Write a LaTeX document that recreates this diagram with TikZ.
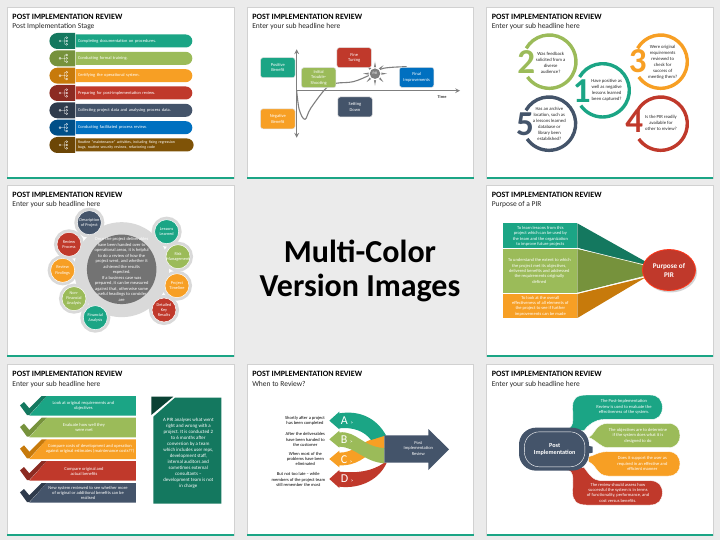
\documentclass[tikz,border=0pt]{standalone}
\usepackage{fontspec}
\setmainfont{Carlito}
\usetikzlibrary{calc,shapes.misc,shapes.geometric,shadows}
\definecolor{myteal}{HTML}{1BA585}
\definecolor{mydteal}{HTML}{14785F}
\definecolor{mygreen}{HTML}{9BBB59}
\definecolor{mydgreen}{HTML}{76923C}
\definecolor{myorange}{HTML}{F79F24}
\definecolor{mydorange}{HTML}{C77A0B}
\definecolor{myred}{HTML}{C0392B}
\definecolor{mydred}{HTML}{8C2B22}
\definecolor{mynavy}{HTML}{44546A}
\definecolor{mydnavy}{HTML}{2F3B4C}
\definecolor{myblue}{HTML}{0070C0}
\definecolor{mydblue}{HTML}{004F88}
\definecolor{mybrown}{HTML}{7F5307}
\definecolor{mydbrown}{HTML}{6C4606}
\definecolor{myaxis}{HTML}{7F7F7F}
\tikzset{
    crop/.style 2 args={shift={(#1,#2)}, x=0.33333pt, y=-0.33333pt},
    slidepaper/.style={anchor=north west, fill=white, draw=black!18, line width=0.8pt,
        minimum width=226.5pt, minimum height=171pt, inner sep=0},
    slidestrip/.style={anchor=south west, fill=myteal, minimum width=226.5pt,
        minimum height=2pt, inner sep=0},
    headline/.style={anchor=west, inner sep=0, font=\bfseries\fontsize{8.1}{9}\selectfont},
    subline/.style={anchor=west, inner sep=0, font=\fontsize{7.5}{8}\selectfont, text=black!85},
    smalltext/.style={inner sep=0, align=center, font=\fontsize{4.5}{5.4}\selectfont},
    whitetext/.style={smalltext, text=white},
    pillbar/.style={rounded rectangle, rounded rectangle west arc=none, anchor=west,
        minimum height=13pt, inner ysep=0, inner xsep=2.5pt, text width=111.5pt, align=left,
        text=white, font=\fontsize{4.4}{5}\selectfont},
    pillcap/.style={rounded rectangle, rounded rectangle east arc=none, anchor=east,
        minimum width=25.7pt, minimum height=16pt, inner sep=0},
    treeicon/.pic={
        \draw[white, line width=0.3pt] (-12,0) circle (3) (-9,0) -- (2,0)
            (2,-10) -- (2,10) (2,-10) -- (5,-10) (2,10) -- (5,10);
        \draw[white, line width=0.3pt] (8,-10) circle (3) (8,0) circle (3) (8,10) circle (3);
    },
    flowbox/.style={whitetext, draw=black!12, line width=0.5pt, rounded corners=2.5pt,
        minimum width=34.5pt, minimum height=20pt},
    axisline/.style={draw=myaxis, line width=1.1pt},
    ringline/.style={line width=3.4pt},
    ringdigit/.style={inner sep=0, font=\bfseries\fontsize{35}{35}\selectfont},
    ringtext/.style={inner sep=0, align=center, font=\fontsize{4.7}{6}\selectfont, text=black!85},
    satcircle/.style={circle, minimum size=24pt, inner sep=0, draw=white, line width=0.5pt,
        preaction={draw=black!15, line width=6pt}},
    satlabel/.style={whitetext, font=\fontsize{4.3}{5.2}\selectfont},
    bubble/.style={draw=white, line width=0.4pt},
}
\newcommand{\slideframe}[4]{
    \node[slidepaper] (#1) at (#2,#3) {};
    \node[slidestrip] (#1strip) at (#1.south west) {};
    \node[headline] (#1title) at ($(#1.north west)+(5.3,10.3)$) {POST IMPLEMENTATION REVIEW};
    \node[subline] (#1sub) at ($(#1.north west)+(5.3,20)$) {#4};
}
\newcommand{\checkbar}[3]{
    \begin{scope}[yshift=-#1*0.33333pt]
        \fill[#2] (140,0) -- (408,0) -- (408,59) -- (88,59) -- cycle;
        \fill[#3] (60,28) -- (72,18) -- (88,37) -- (125,0) -- (140,0) -- (88,57) -- (81,57) -- cycle;
    \end{scope}
}
\begin{document}
\begin{tikzpicture}[x=1pt, y=-1pt]
    \useasboundingbox (0,0) rectangle (720,540);
    \fill[black!8] (0,0) rectangle (720,540);
    \slideframe{stage}{7}{7}{Post Implementation Stage}
    \slideframe{curve}{246.8}{7}{Enter your sub headline here}
    \slideframe{rings}{486.3}{7}{Enter your sub headline here}
    \slideframe{orbit}{7}{185}{Enter your sub headline here}
    \slideframe{purpose}{486.3}{185}{Purpose of a PIR}
    \slideframe{checks}{7}{364}{Enter your sub headline here}
    \slideframe{when}{246.8}{364}{When to Review?}
    \slideframe{bubbles}{486.3}{364}{Enter your sub headline here}
    % Middle caption
    \node[align=center, font=\bfseries\fontsize{32}{34}\selectfont] (caption) at (360,271)
        {Multi-Color\\Version Images};
    \begin{scope}[crop={0}{0}]
        % Stage bars
        \node[pillbar, fill=myteal] (bara) at (226,123) {Completing documentation on procedures.};
        \node[pillbar, fill=mygreen] (barb) at (226,175) {Conducting formal training.};
        \node[pillbar, fill=myorange] (barc) at (226,227) {Certifying the operational system.};
        \node[pillbar, fill=myred] (bard) at (226,279) {Preparing for post-implementation review.};
        \node[pillbar, fill=mynavy] (bare) at (226,331) {Collecting project data and analysing process data.};
        \node[pillbar, fill=myblue] (barf) at (226,383) {Conducting facilitated process review.};
        \node[pillbar, fill=mybrown, font=\fontsize{3.9}{5}\selectfont] (barg) at (226,435) {Routine ``maintenance'' activities, including fixing regression\\bugs, routine security reviews, refactoring code};
        % Stage caps
        \node[pillcap, fill=mydteal] (capa) at (226,123) {};
        \node[pillcap, fill=mydgreen] (capb) at (226,175) {};
        \node[pillcap, fill=mydorange] (capc) at (226,227) {};
        \node[pillcap, fill=mydred] (capd) at (226,279) {};
        \node[pillcap, fill=mydnavy] (cape) at (226,331) {};
        \node[pillcap, fill=mydblue] (capf) at (226,383) {};
        \node[pillcap, fill=mydbrown] (capg) at (226,435) {};
        \pic at (192,123) {treeicon};
        \pic at (192,175) {treeicon};
        \pic at (192,227) {treeicon};
        \pic at (192,279) {treeicon};
        \pic at (192,331) {treeicon};
        \pic at (192,383) {treeicon};
        \pic at (192,435) {treeicon};
    \end{scope}
    \begin{scope}[crop={240}{0}]
        % Axes
        \coordinate (origin) at (170,272);
        \coordinate (timeend) at (660,272);
        \coordinate (gaintop) at (170,148);
        \coordinate (gainlow) at (170,413);
        \draw[axisline, -stealth] (origin) -- (timeend);
        \draw[axisline, stealth-stealth] (gainlow) -- (gaintop);
        \node[smalltext, font=\bfseries\fontsize{4.3}{5}\selectfont, text=black!75] (timelabel) at (606,290) {Time};
        % Benefit curve
        \draw[axisline] plot[smooth, tension=0.6] coordinates
            {(170,272) (178,330) (195,358) (212,325) (258,265) (288,250) (340,245) (392,224) (430,205) (500,200)};
        % Review burst
        \node[star, star points=8, star point ratio=3, minimum size=24pt, inner sep=0, fill=myaxis] (burst) at (405,221) {};
        \node[circle, fill=white, minimum size=13pt, inner sep=0] (burstgap) at (405,221) {};
        \node[circle, fill=myaxis, minimum size=10.5pt, inner sep=0, text=white, font=\fontsize{3.6}{4}\selectfont] (pir) at (405,221) {PIR};
        % Phase boxes
        \node[flowbox, fill=myteal] (positive) at (113.5,203) {Positive\\Benefit};
        \node[flowbox, fill=myorange] (negative) at (113.5,356.5) {Negative\\Benefit};
        \node[flowbox, fill=mygreen] (trouble) at (236,233) {Initial\\Trouble-\\Shooting};
        \node[flowbox, fill=myred] (tuning) at (342.5,173) {Fine\\Tuning};
        \node[flowbox, fill=mynavy] (settling) at (345,321) {Setting\\Down};
        \node[flowbox, fill=myblue] (final) at (530,232) {Final\\Improvements};
    \end{scope}
    \begin{scope}[crop={480}{0}]
        % Rings
        \draw[ringline, mygreen] (208,185) ++(-150:80) arc[start angle=-150, end angle=145, radius=80];
        \draw[ringline, mynavy] (207,371) ++(-150:80) arc[start angle=-150, end angle=145, radius=80];
        \draw[ringline, myorange] (542,185) ++(-150:80) arc[start angle=-150, end angle=145, radius=80];
        \draw[ringline, myred] (542,371) ++(-150:80) arc[start angle=-150, end angle=145, radius=80];
        \draw[ringline, myteal] (368,271) ++(-150:80) arc[start angle=-150, end angle=145, radius=80];
        % Ring digits
        \node[ringdigit, text=myteal] (one) at (305,272) {1};
        \node[ringdigit, text=mygreen] (two) at (139,185) {2};
        \node[ringdigit, text=myorange] (three) at (473,184) {3};
        \node[ringdigit, text=myred] (four) at (463,363) {4};
        \node[ringdigit, text=mynavy] (five) at (135,372) {5};
        % Ring questions
        \node[ringtext] (askone) at (380,272) {Have positive as\\well as negative\\lessons learned\\been captured?};
        \node[ringtext] (asktwo) at (212,190) {Was feedback\\solicited from a\\diverse\\audience?};
        \node[ringtext] (askthree) at (548,187) {Were original\\requirements\\reviewed to\\check for\\success of\\meeting them?};
        \node[ringtext] (askfour) at (543,370) {Is the PIR readily\\available for\\other to review?};
        \node[ringtext] (askfive) at (208,372) {Has an archive\\location, such as\\a lessons learned\\database or\\library been\\established?};
    \end{scope}
    \begin{scope}[crop={0}{180}]
        % Centre discs
        \node[circle, fill=black!15, minimum size=95pt, inner sep=0] (outerdisc) at (365,269) {};
        \node[circle, fill=black!55, minimum size=69.5pt, inner sep=0,
            label={[satlabel, font=\fontsize{4.5}{5.5}\selectfont]center:{Once the project deliverables\\have been handed over to\\operational areas, it is helpful\\to do a review of how the\\project went, and whether it\\achieved the results\\expected.\\If a business case was\\prepared, it can be measured\\against that, otherwise some\\useful headings to consider\\are}}] (innerdisc) at (365,268) {};
        % Satellites
        \node[satcircle, fill=mynavy, label={[satlabel]center:{Description\\of Project}}] (description) at (268,128) {};
        \node[satcircle, fill=myteal, label={[satlabel]center:{Lessons\\Learned}}] (lessons) at (500,155) {};
        \node[satcircle, fill=mygreen, label={[satlabel]center:{Risk\\Management}}] (risk) at (534,230) {};
        \node[satcircle, fill=myorange, label={[satlabel]center:{Project\\Timeline}}] (timeline) at (531,317) {};
        \node[satcircle, fill=myred, label={[satlabel]center:{Detailed\\Key\\Results}}] (results) at (492,390) {};
        \node[satcircle, fill=myteal, label={[satlabel]center:{Financial\\Analysis}}] (financial) at (286,413) {};
        \node[satcircle, fill=mygreen, label={[satlabel]center:{Non-\\Financial\\Analysis}}] (nonfinancial) at (222,356) {};
        \node[satcircle, fill=myorange, label={[satlabel]center:{Review\\Findings}}] (findings) at (188,271) {};
        \node[satcircle, fill=myred, label={[satlabel]center:{Review\\Process}}] (process) at (207,193) {};
    \end{scope}
    \begin{scope}[crop={480}{180}]
        % Wedges
        \fill[mydteal] (292,130) -- (497,245) -- (490,262) -- (292,203) -- cycle;
        \fill[mydgreen] (292,207) -- (490,252) -- (490,290) -- (292,338) -- cycle;
        \fill[mydorange] (292,342) -- (497,292) -- (292,414) -- cycle;
        \draw[white, line width=0.6pt] (292,205) -- (497,256) (292,340) -- (497,288);
        % Purpose boxes
        \fill[myteal] (70,130) rectangle (292,203);
        \fill[mygreen] (70,207) rectangle (292,338);
        \fill[myorange] (70,342) rectangle (292,414);
        \node[whitetext] (learn) at (181,169) {To learn lessons from this\\project which can be used by\\the team and the organization\\to improve future projects};
        \node[whitetext] (extent) at (178,273) {To understand the extent to which\\the project met its objectives,\\delivered benefits and addressed\\the requirements originally\\defined};
        \node[whitetext] (overall) at (181,378) {To look at the overall\\effectiveness of all elements of\\the project to see if further\\improvements can be made};
        % Purpose ellipse
        \node[ellipse, fill=myred, draw=red!75!orange!90, line width=0.8pt, minimum width=53pt, minimum height=41pt, inner sep=0,
            align=center, text=white, font=\bfseries\fontsize{7.2}{9}\selectfont,
            drop shadow={opacity=0.35, shadow xshift=1.5pt, shadow yshift=-2pt}] (pirpurpose) at (567,270) {Purpose of\\PIR};
    \end{scope}
    \begin{scope}[crop={0}{360}]
        % Check bars
        \checkbar{108}{myteal}{mydteal}
        \checkbar{173}{mygreen}{mydgreen}
        \checkbar{238}{myorange}{mydorange}
        \checkbar{303}{myred}{mydred}
        \checkbar{369}{mynavy}{mydnavy}
        \node[whitetext] (checka) at (250,137) {Look at original requirements and\\objectives};
        \node[whitetext] (checkb) at (252,202) {Evaluate how well they\\were met};
        \node[whitetext] (checkc) at (270,267) {Compare costs of development and operation\\against original estimates (maintenance costs??)};
        \node[whitetext] (checkd) at (252,335) {Compare original and\\actual benefits};
        \node[whitetext] (checke) at (264,399) {New system reviewed to see whether more\\of original or additional benefits can be\\realised};
        % Note panel
        \fill[mydteal] (525,113) -- (664,113) -- (664,431) -- (460,431) -- (460,170) -- cycle;
        \fill[mydteal!55!black] (454,110) -- (520,110) -- (454,165) -- cycle;
        \node[whitetext, font=\fontsize{4.9}{6}\selectfont] (note) at (565,280) {A PIR analyses what went\\right and wrong with a\\project. It is conducted 2\\to 6 months after\\conversion by a team\\which includes user reps,\\development staff,\\internal auditors and\\sometimes external\\consultants --\\development team is not\\in charge};
    \end{scope}
    \begin{scope}[crop={240}{360}]
        % Ribbons
        \fill[myorange] (268,297) -- (298,272) -- (298,278) .. controls (340,278) and (360,250) .. (395,238) -- (433,226) -- (433,268) -- (400,268) .. controls (380,290) and (350,318) .. (298,316) -- (298,322) -- cycle;
        \fill[myteal] (268,182) -- (298,155) -- (298,160) .. controls (360,150) and (410,175) .. (438,226) -- (393,240) .. controls (375,215) and (340,200) .. (298,205) -- (298,208) -- cycle;
        \fill[myred] (268,357) -- (298,330) -- (298,335) .. controls (350,340) and (395,335) .. (433,308) -- (440,308) .. controls (420,355) and (365,388) .. (298,380) -- (298,384) -- cycle;
        \fill[mygreen] (268,238) -- (298,212) -- (298,217) .. controls (350,212) and (370,262) .. (433,264) -- (433,310) .. controls (370,305) and (350,262) .. (298,260) -- (298,263) -- cycle;
        % Review arrow
        \fill[mynavy] (433,226) -- (565,226) -- (565,207) -- (627,268) -- (565,330) -- (565,308) -- (433,308) -- cycle;
        \node[whitetext] (arrowtext) at (535,265) {Post\\Implementation\\Review};
        % Ribbon letters
        \node[anchor=west, inner sep=0, text=white, font=\fontsize{12}{12}\selectfont] (lettera) at (302,182) {A {\fontsize{5}{5}\selectfont >}};
        \node[anchor=west, inner sep=0, text=white, font=\fontsize{12}{12}\selectfont] (letterb) at (302,239) {B {\fontsize{5}{5}\selectfont >}};
        \node[anchor=west, inner sep=0, text=white, font=\fontsize{12}{12}\selectfont] (letterc) at (302,298) {C {\fontsize{5}{5}\selectfont >}};
        \node[anchor=west, inner sep=0, text=white, font=\fontsize{12}{12}\selectfont] (letterd) at (302,357) {D {\fontsize{5}{5}\selectfont >}};
        % Ribbon captions
        \node[smalltext] (shortly) at (195,182) {Shortly after a project\\has been completed};
        \node[smalltext] (deliver) at (196,239) {After the deliverables\\have been handed to\\the customer};
        \node[smalltext] (problems) at (196,297) {When most of the\\problems have been\\eliminated};
        \node[smalltext] (toolate) at (175,359) {But not too late -- while\\members of the project team\\still remember the most};
    \end{scope}
    \begin{scope}[crop={480}{360}]
        % Speech shapes
        \fill[bubble, fill=myteal] (262,207) .. controls (285,200) and (278,170) .. (278,140) .. controls (278,115) and (290,105) .. (320,105) -- (510,105) .. controls (535,105) and (547,120) .. (547,142) .. controls (547,165) and (535,180) .. (510,178) -- (375,178) .. controls (345,178) and (325,195) .. (312,212) -- cycle;
        \fill[bubble, fill=mygreen] (325,232) .. controls (345,225) and (345,190) .. (385,190) -- (565,190) .. controls (588,190) and (600,205) .. (600,226) .. controls (600,248) and (588,263) .. (565,263) -- (385,263) .. controls (360,263) and (350,240) .. (325,232) -- cycle;
        \fill[bubble, fill=myorange] (325,290) .. controls (350,285) and (350,275) .. (385,275) -- (565,275) .. controls (588,275) and (600,290) .. (600,312) .. controls (600,333) and (588,348) .. (565,348) -- (385,348) .. controls (350,348) and (350,315) .. (325,305) -- cycle;
        \fill[bubble, fill=myred] (262,330) .. controls (285,335) and (278,365) .. (278,398) .. controls (278,422) and (290,435) .. (320,435) -- (510,435) .. controls (535,435) and (547,420) .. (547,398) .. controls (547,376) and (535,362) .. (510,362) -- (360,362) .. controls (340,362) and (325,340) .. (312,322) -- cycle;
        \node[whitetext] (bubblea) at (432,141) {The Post-Implementation\\Review is used to evaluate the\\effectiveness of the system.};
        \node[whitetext] (bubbleb) at (474,227) {The objectives are to determine\\if the system does what it is\\designed to do};
        \node[whitetext] (bubblec) at (487,311) {Does it support the user as\\required in an effective and\\efficient manner};
        \node[whitetext] (bubbled) at (414,398) {The review should assess how\\successful the system is in terms\\of functionality, performance, and\\cost versus benefits.};
        % Central label
        \fill[mynavy] (327,258) -- (338,260) -- (338,278) -- (327,280) -- cycle;
        \node[fill=mynavy, rounded corners=17pt, minimum width=70pt, minimum height=43pt, inner sep=0] (postback) at (222,267.5) {};
        \node[draw=white, line width=0.4pt, rounded corners=15pt, minimum width=60.5pt, minimum height=35pt, inner sep=0,
            align=center, text=white, font=\bfseries\fontsize{6.2}{7.7}\selectfont] (postlabel) at (224,268) {Post\\Implementation};
    \end{scope}
\end{tikzpicture}
\end{document}
